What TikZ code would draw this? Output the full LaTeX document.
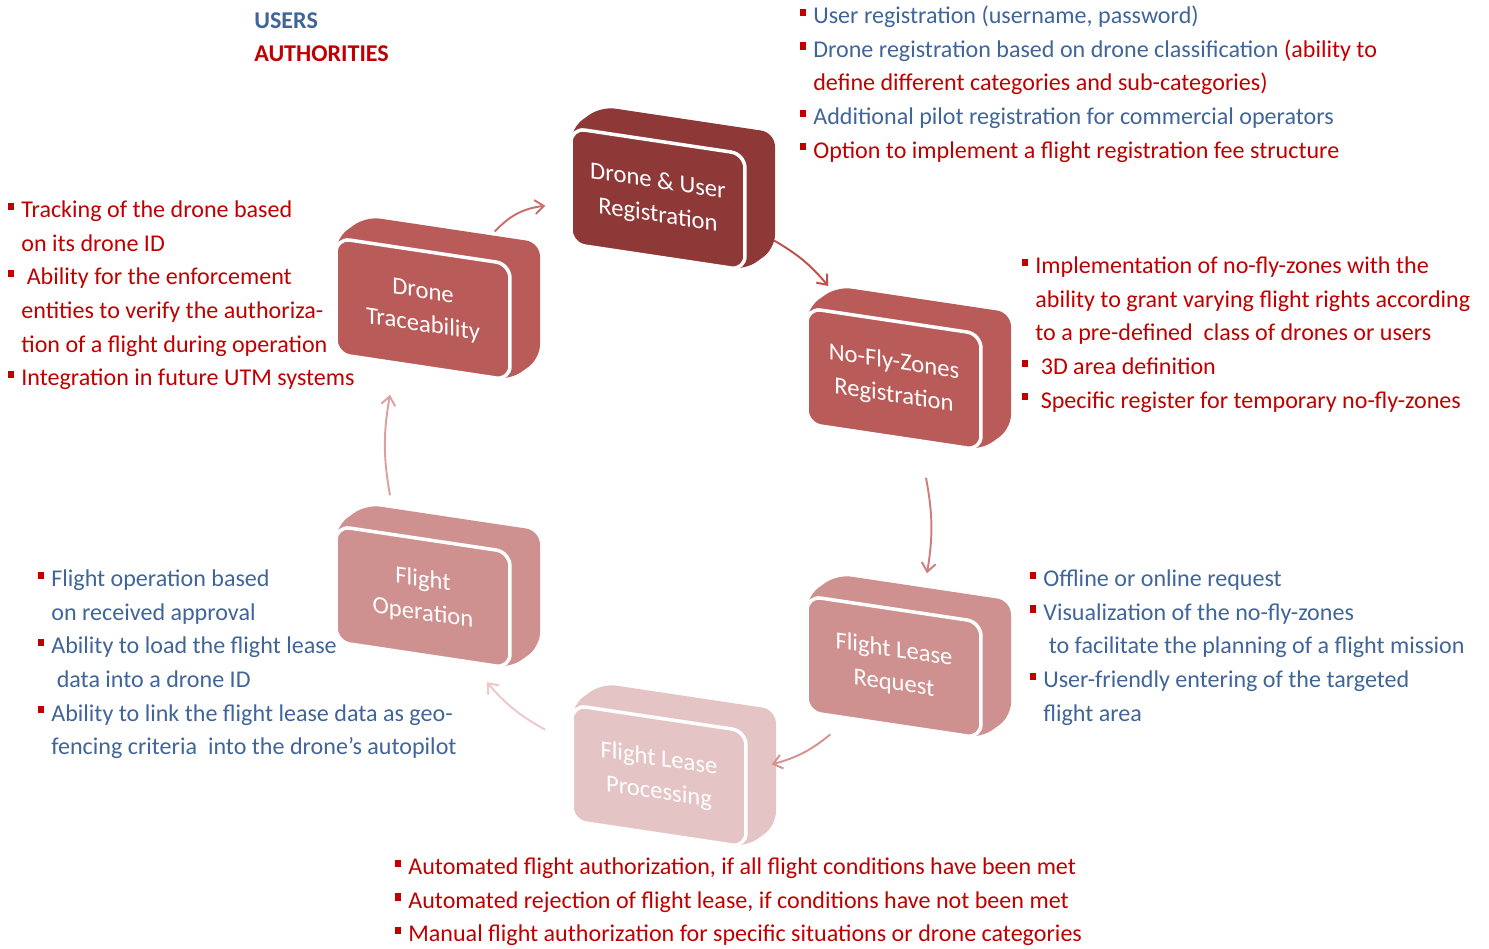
\documentclass[tikz,border=0pt]{standalone}
\usepackage{fontspec}
\setmainfont{Carlito}
\usetikzlibrary{arrows.meta}

\definecolor{userblue}{RGB}{64,101,153}
\definecolor{authred}{RGB}{192,0,0}
\definecolor{boxdark}{RGB}{142,56,56}
\definecolor{boxmid}{RGB}{185,91,89}
\definecolor{boxlight}{RGB}{207,144,144}
\definecolor{boxpale}{RGB}{229,196,197}
\definecolor{arra}{RGB}{201,110,108}
\definecolor{arrb}{RGB}{192,80,77}
\definecolor{arrc}{RGB}{205,125,125}
\definecolor{arrd}{RGB}{215,145,145}
\definecolor{arre}{RGB}{236,200,200}
\definecolor{arrf}{RGB}{220,160,160}

\newcommand{\bul}{\textcolor{authred}{\rule[4.5pt]{3.2pt}{4pt}}\hspace{4.2pt}}
\newcommand{\ind}{\hspace{7.4pt}}
% slab behind, front face as a named node
\newcommand{\slabbox}[5]{%
  \begin{scope}[shift={(#2,#3)},yslant=-0.15]
    \fill[#4,rounded corners=0.28cm] (0,116) -- (0,0) -- (30,-26) -- (204,-26) -- (204,90) -- (174,116) -- cycle;
    \node[box,fill=#4,transform shape] (#1) at (87,58) {#5};
  \end{scope}}

\begin{document}
\begin{tikzpicture}[x=0.02cm,y=-0.02cm,>={Straight Barb[length=5pt,width=8pt]},
  box/.style={draw=white,line width=2pt,rounded corners=0.28cm,minimum width=3.48cm,
    minimum height=2.32cm,inner sep=0pt,align=center,text=white,font=\fontsize{14}{19}\selectfont},
  list/.style={anchor=north west,inner sep=0pt,align=left,font=\fontsize{13.7}{19.1}\selectfont},
  legend/.style={anchor=base west,inner sep=0pt,font=\fontsize{13.7}{19.1}\selectfont\bfseries}]
  \useasboundingbox (0,0) rectangle (1489,948);

  \node[legend,text=userblue] (users) at (254,28) {USERS};
  \node[legend,text=authred] (auth) at (254,61) {AUTHORITIES};

  \slabbox{reg}{571}{128}{boxdark}{Drone \& User\\Registration}
  \slabbox{nfz}{807}{308}{boxmid}{No-Fly-Zones\\Registration}
  \slabbox{req}{807}{596}{boxlight}{Flight Lease\\Request}
  \slabbox{proc}{572}{705}{boxpale}{Flight Lease\\Processing}
  \slabbox{op}{336}{526}{boxlight}{Flight\\Operation}
  \slabbox{trace}{336}{238}{boxmid}{Drone\\Traceability}

  \path[->,line width=1.1pt]
    ([shift={(-17,-31)}]trace.north east) edge[bend left=20,draw=arra] ([shift={(-24,20)}]reg.west)
    ([shift={(27,28)}]reg.east) edge[bend left=10,draw=arrb] ([shift={(23,-20)}]nfz.north west)
    ([shift={(32,39)}]nfz.south) edge[bend left=10,draw=arrc] ([shift={(33,-34)}]req.north)
    ([shift={(25,21)}]req.south west) edge[bend left=12,draw=arrd] ([shift={(24,-25)}]proc.east)
    ([shift={(-25,-33)}]proc.west) edge[bend left=10,draw=arre] ([shift={(-25,12)}]op.south east)
    ([shift={(-33,-42)}]op.north) edge[bend left=10,draw=arrf] ([shift={(-33,26)}]trace.south);

  \node[list,text=userblue] (regtext) at (800,0) {\strut\bul User registration (username, password)\\
    \bul Drone registration based on drone classification \textcolor{authred}{(ability to}\\
    \ind\textcolor{authred}{define different categories and sub-categories)}\\
    \bul Additional pilot registration for commercial operators\\
    \bul\textcolor{authred}{Option to implement a flight registration fee structure}};
  \node[list,text=authred] (nfztext) at (1022,250) {\strut\bul Implementation of no-fly-zones with the\\
    \ind ability to grant varying flight rights according\\
    \ind to a pre-defined\ \ class of drones or users\\
    \bul\ 3D area definition\\
    \bul\ Specific register for temporary no-fly-zones};
  \node[list,text=userblue] (reqtext) at (1030,563) {\strut\bul Offline or online request\\
    \bul Visualization of the no-fly-zones\\
    \ind\ to facilitate the planning of a flight mission\\
    \bul User-friendly entering of the targeted\\
    \ind flight area};
  \node[list,text=authred] (proctext) at (395,851) {\strut\bul Automated flight authorization, if all flight conditions have been met\\
    \bul Automated rejection of flight lease, if conditions have not been met\\
    \bul Manual flight authorization for specific situations or drone categories};
  \node[list,text=userblue] (optext) at (38,563) {\strut\bul Flight operation based\\
    \ind on received approval\\
    \bul Ability to load the flight lease\\
    \ind\ data into a drone ID\\
    \bul Ability to link the flight lease data as geo-\\
    \ind fencing criteria\ \ into the drone’s autopilot};
  \node[list,text=authred] (tracetext) at (8,194) {\strut\bul Tracking of the drone based\\
    \ind on its drone ID\\
    \bul\ Ability for the enforcement\\
    \ind entities to verify the authoriza-\\
    \ind tion of a flight during operation\\
    \bul Integration in future UTM systems};
\end{tikzpicture}
\end{document}
